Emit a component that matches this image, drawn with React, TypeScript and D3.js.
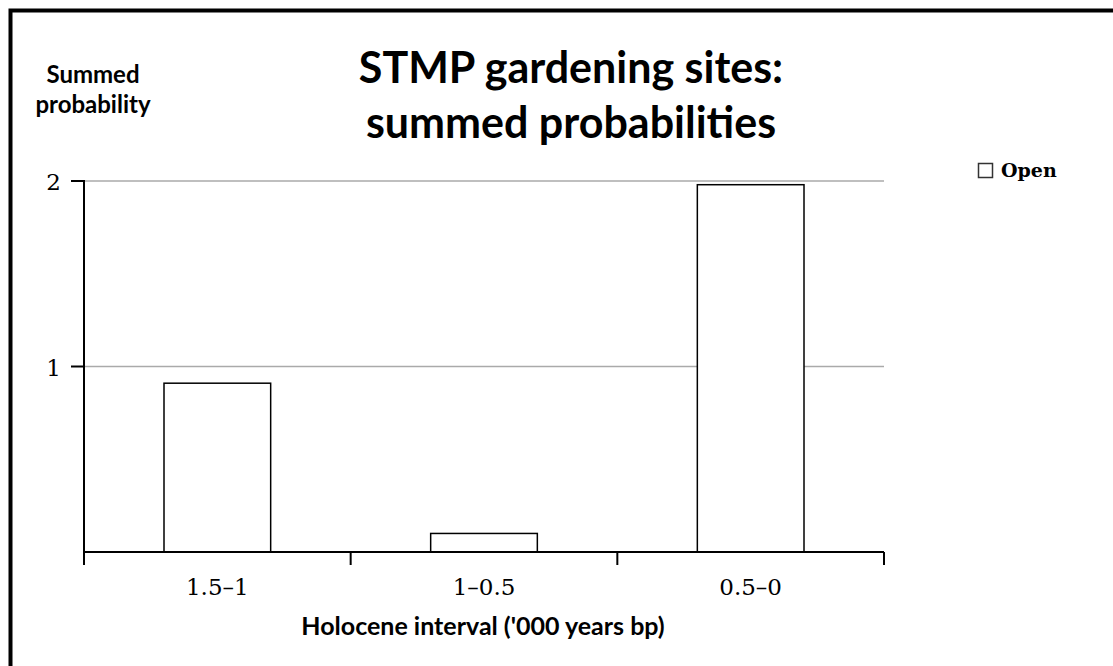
import React from "react";
import * as d3 from "d3";

const categories = ["1.5–1", "1–0.5", "0.5–0"];
const openValues = [0.91, 0.1, 1.98];
const yTicks = [1, 2];
const seriesName = "Open";
const titleLines = ["STMP gardening sites:", "summed probabilities"];
const yTitleLines = ["Summed", "probability"];
const xTitle = "Holocene interval ('000 years bp)";

const W = 1113;
const H = 666;
const plot = { left: 84, right: 884, top: 181, bottom: 552 };

export default function App() {
  const x = d3
    .scaleBand<string>()
    .domain(categories)
    .range([plot.left, plot.right])
    .paddingInner(0.6)
    .paddingOuter(0.3);
  const xOuter = d3.scaleBand<string>().domain(categories).range([plot.left, plot.right]);
  const y = d3.scaleLinear().domain([0, 2]).range([plot.bottom, plot.top]);

  const sans = "Lato, 'Open Sans', sans-serif";
  const serif = "'DejaVu Serif', serif";
  const boundaries = [...categories.map((c) => xOuter(c)!), plot.right];

  return (
    <svg
      width={W}
      height={H}
      style={{ position: "absolute", left: 0, top: 0, background: "#fff" }}
    >
      <rect x={0} y={0} width={W} height={H} fill="#fff" />
      <path d={`M10.5,${H} L10.5,10.5 L${W},10.5`} fill="none" stroke="#000" strokeWidth={4} />

      {/* title */}
      <text x={571} y={83} textAnchor="middle" fontFamily={sans} fontWeight={700} fontSize={43} fill="#000">
        {titleLines[0]}
      </text>
      <text x={571} y={138} textAnchor="middle" fontFamily={sans} fontWeight={700} fontSize={43} fill="#000">
        {titleLines[1]}
      </text>

      {/* y title */}
      <text x={93} y={83} textAnchor="middle" fontFamily={sans} fontWeight={700} fontSize={24} fill="#000">
        {yTitleLines[0]}
      </text>
      <text x={93} y={113} textAnchor="middle" fontFamily={sans} fontWeight={700} fontSize={24} fill="#000">
        {yTitleLines[1]}
      </text>

      {/* gridlines */}
      {yTicks.map((t) => (
        <line key={"g" + t} x1={plot.left} x2={plot.right} y1={y(t)} y2={y(t)} stroke="#aaa" strokeWidth={1.5} />
      ))}

      {/* bars */}
      {categories.map((c, i) => (
        <rect
          key={c}
          x={x(c)!}
          y={y(openValues[i])}
          width={x.bandwidth()}
          height={y(0) - y(openValues[i])}
          fill="#fff"
          stroke="#000"
          strokeWidth={1.5}
        />
      ))}

      {/* y axis */}
      <line x1={plot.left} x2={plot.left} y1={plot.top - 1} y2={plot.bottom + 13} stroke="#000" strokeWidth={2} />
      {yTicks.map((t) => (
        <g key={"t" + t}>
          <line x1={plot.left - 13} x2={plot.left} y1={y(t)} y2={y(t)} stroke="#000" strokeWidth={2} />
          <text x={61} y={y(t) + 9} textAnchor="end" fontFamily={serif} fontSize={23} fill="#000">
            {t}
          </text>
        </g>
      ))}

      {/* x axis */}
      <line x1={plot.left} x2={plot.right} y1={plot.bottom} y2={plot.bottom} stroke="#000" strokeWidth={2} />
      {boundaries.map((b, i) => (
        <line key={"xb" + i} x1={b} x2={b} y1={plot.bottom} y2={plot.bottom + 13} stroke="#000" strokeWidth={2} />
      ))}
      {categories.map((c) => (
        <text
          key={"xl" + c}
          x={xOuter(c)! + xOuter.bandwidth() / 2}
          y={595}
          textAnchor="middle"
          fontFamily={serif}
          fontSize={23}
          fill="#000"
        >
          {c}
        </text>
      ))}
      <text x={483} y={635} textAnchor="middle" fontFamily={sans} fontWeight={700} fontSize={25} fill="#000">
        {xTitle}
      </text>

      {/* legend */}
      <rect x={978.5} y={163.5} width={14} height={14} fill="#fff" stroke="#333" strokeWidth={1.5} />
      <text x={1001} y={177} fontFamily={serif} fontWeight={700} fontSize={19} fill="#000">
        {seriesName}
      </text>
    </svg>
  );
}
